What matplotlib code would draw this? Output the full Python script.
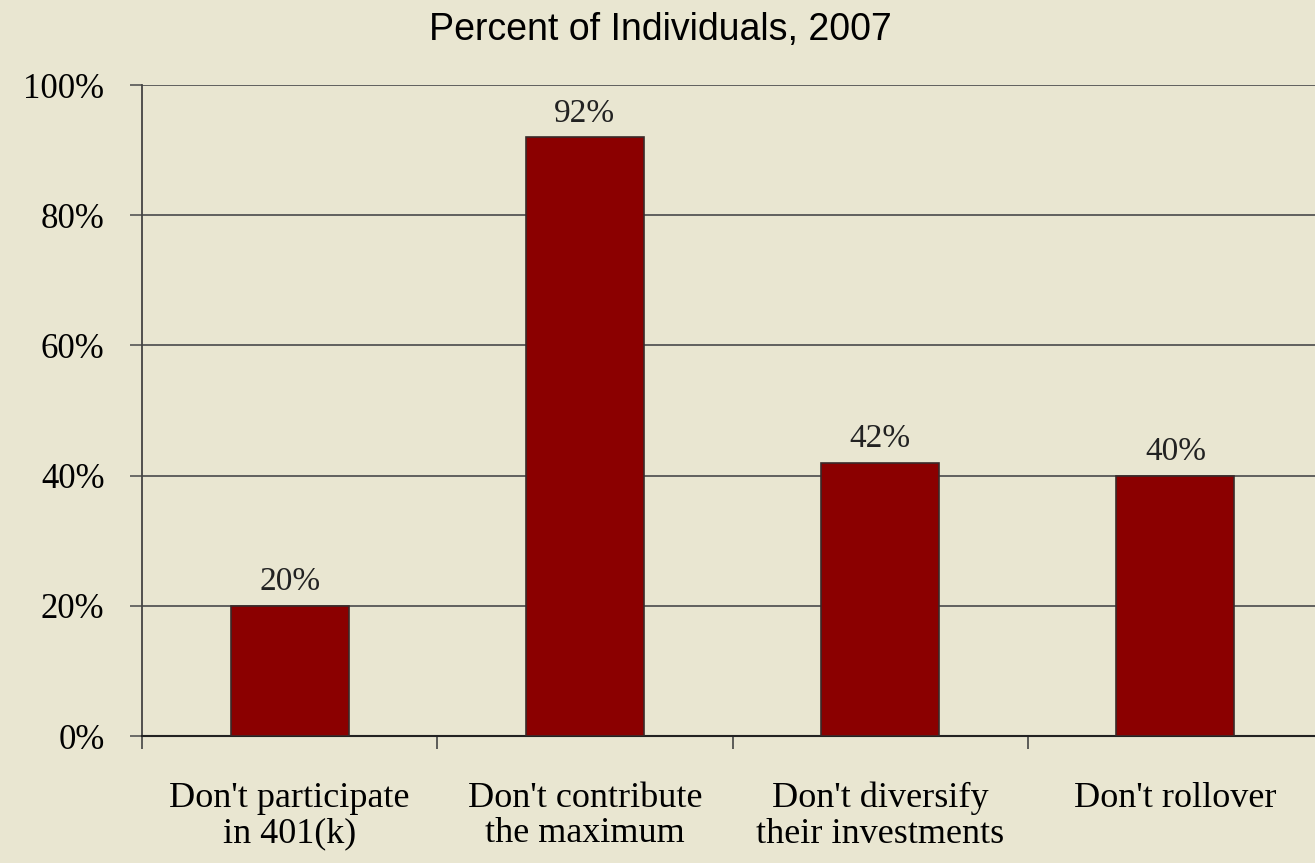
import numpy as np
import matplotlib.pyplot as plt

categories = ["Don't participate\nin 401(k)", "Don't contribute\nthe maximum",
              "Don't diversify\ntheir investments", "Don't rollover"]
values = [20, 92, 42, 40]
yticks = [0, 20, 40, 60, 80, 100]

bg = '#e9e6d1'
fig = plt.figure(figsize=(13.15, 8.63), dpi=100, facecolor=bg)
# axes runs slightly past the right edge, like the original
ax = fig.add_axes([142/1315, (863-736)/863, (1323-142)/1315, (736-85)/863])
ax.set_facecolor(bg)

x = np.arange(len(categories))
ax.bar(x, values, width=0.4, color='#8b0000', edgecolor='#3a2a2a', linewidth=1.2, zorder=3)
for xi, v in zip(x, values):
    ax.annotate(f'{v}%', (xi, v), xytext=(0, 6), textcoords='offset points',
                ha='center', va='bottom', fontsize=24, family='Liberation Serif', color='#222222')

ax.set_xlim(-0.5, len(categories) - 0.5)
ax.set_ylim(0, 100)
ax.set_yticks(yticks)
ax.set_yticklabels([f'{t}%' for t in yticks], family='Liberation Serif', fontsize=25)
ax.yaxis.grid(True, color='#555555', linewidth=1.3, zorder=0)

ax.set_xticks(np.arange(len(categories) + 1) - 0.5, minor=False)
ax.set_xticklabels([])
ax.set_xticks(x, minor=True)
ax.set_xticklabels(categories, minor=True, family='Liberation Serif', fontsize=26, linespacing=1.1)
ax.tick_params(axis='x', which='minor', length=0, pad=33)
ax.tick_params(axis='x', which='major', length=9, width=1.2, color='#444444')
ax.tick_params(axis='y', length=9, width=1.2, color='#555555', pad=18)

for s in ['top', 'right']:
    ax.spines[s].set_visible(False)
ax.spines['left'].set_color('#444444')
ax.spines['bottom'].set_color('#222222')
ax.spines['left'].set_linewidth(1.3)
ax.spines['bottom'].set_linewidth(1.5)

fig.text(660/1315, 1 - 30/863, 'Percent of Individuals, 2007', ha='center', va='center',
         fontsize=27, family='Liberation Sans')

fig.savefig('out.png', dpi=100, facecolor=bg)
